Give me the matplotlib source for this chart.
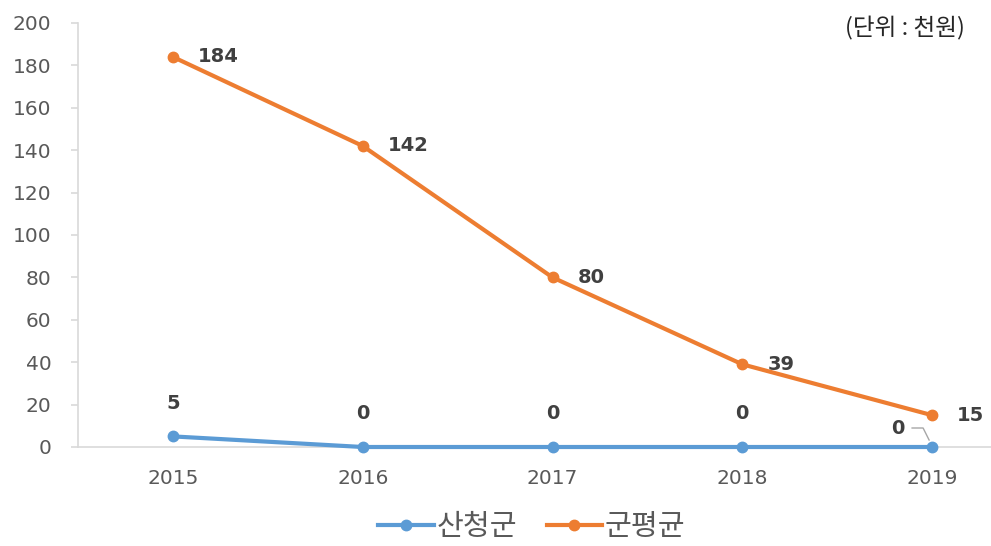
import matplotlib
matplotlib.use("Agg")
from matplotlib import pyplot as plt

plt.rcParams['font.family'] = ['DejaVu Sans', 'Noto Sans CJK KR']

years = ["2015", "2016", "2017", "2018", "2019"]
sancheong = [5, 0, 0, 0, 0]
gun_avg = [184, 142, 80, 39, 15]

blue = "#5B9BD5"
orange = "#ED7D31"
label_color = "#404040"
tick_color = "#595959"

fig = plt.figure(figsize=(9.91, 5.46), dpi=100)
ax = fig.add_axes([78 / 991, 99 / 546, 949 / 991, 424 / 546])

x = list(range(len(years)))
l1, = ax.plot(x, sancheong, color=blue, lw=3, marker="o", ms=7.5, label="산청군",
              clip_on=False, zorder=4)
l2, = ax.plot(x, gun_avg, color=orange, lw=3, marker="o", ms=7.5, label="군평균",
              clip_on=False, zorder=4)

ax.set_xlim(-0.5, 4.5)
ax.set_ylim(0, 200)
ax.set_yticks(range(0, 201, 20))
ax.set_xticks(x)
ax.set_xticklabels(years)

for side in ["top", "right"]:
    ax.spines[side].set_visible(False)
ax.spines["left"].set_color("#D9D9D9")
ax.spines["bottom"].set_color("#D9D9D9")
ax.spines["left"].set_linewidth(1.2)
ax.spines["bottom"].set_linewidth(1.2)
ax.tick_params(axis="y", colors="#D9D9D9", labelcolor=tick_color, labelsize=14.5,
               length=5, width=1.2, pad=14)
ax.tick_params(axis="x", length=0, labelcolor=tick_color, labelsize=14.5, pad=16)

# data labels
for i, v in enumerate(gun_avg):
    ax.annotate(str(v), (i, v), xytext=(18, 0), textcoords="offset points",
                ha="left", va="center", fontsize=14, fontweight="bold",
                color=label_color)
for i, v in enumerate(sancheong[:-1]):
    ax.annotate(str(v), (i, v), xytext=(0, 24), textcoords="offset points",
                ha="center", va="center", fontsize=14, fontweight="bold",
                color=label_color)
ax.annotate(str(sancheong[-1]), (4, sancheong[-1]), xytext=(-25, 13),
            textcoords="offset points", ha="center", va="center", fontsize=14,
            fontweight="bold", color=label_color)

# leader line for the last label (pixel offsets from the point)
px, py = ax.transData.transform((4, sancheong[-1]))
inv = ax.transData.inverted()
pts = [inv.transform((px + dx, py + dy)) for dx, dy in [(-20, 19), (-9, 19), (-3, 7)]]
ax.plot([p[0] for p in pts], [p[1] for p in pts], color="#A6A6A6", lw=1,
        clip_on=False, zorder=3)

fig.text(905 / 991, 1 - 28 / 546, "(단위 : 천원)", ha="center", va="center",
         fontsize=17, color="#262626", family="Noto Sans CJK KR", fontweight="medium")

fig.legend(handles=[l1, l2], loc="center", bbox_to_anchor=(532 / 991, 1 - 527 / 546),
           ncol=2, frameon=False, labelcolor=tick_color,
           handlelength=1.9, columnspacing=1.0, handletextpad=0.1,
           prop={"family": "Noto Sans CJK KR", "size": 21})

fig.savefig("out.png", dpi=100)
